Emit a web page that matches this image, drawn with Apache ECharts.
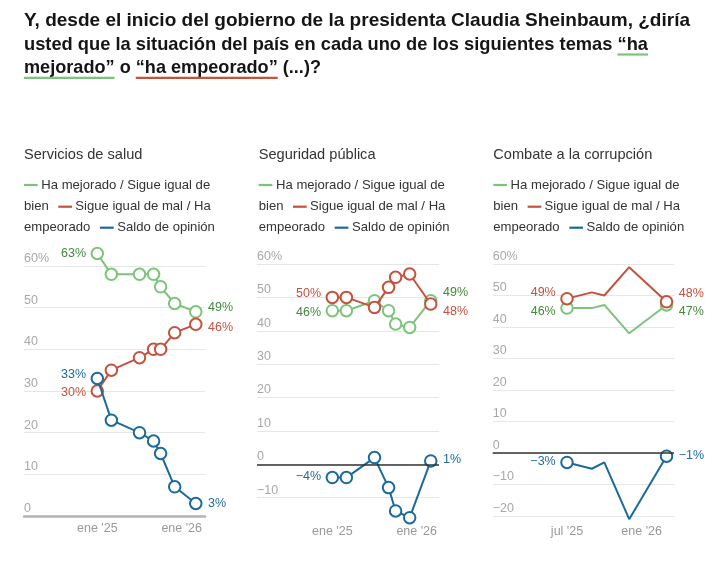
<!DOCTYPE html>
<html>
<head>
<meta charset="utf-8">
<script src="https://cdn.jsdelivr.net/npm/echarts@6/dist/echarts.min.js"></script>
<style>html,body{margin:0;padding:0;background:#fff}#main{width:727px;height:571px}</style>
</head>
<body>
<div id="main"></div>
<script>
// ---------- data ----------
const months12 = ['2025-01','2025-03','2025-07','2025-09','2025-10','2025-12','2026-03'];
const months3 = ['2025-07','2025-09','2025-10','2025-12','2026-03'];

const saludMejor = [63, 58, 58, 58, 55, 51, 49];
const saludPeor  = [30, 35, 38, 40, 40, 44, 46];
const saludSaldo = [33, 23, 20, 18, 15, 7, 3];

const segMejor = [46, 46, 49, 46, 42, 41, 49];
const segPeor  = [50, 50, 47, 53, 56, 57, 48];
const segSaldo = [-4, -4, 2, -7, -14, -16, 1];

const corrMejor = [46, 46, 47, 38, 47];
const corrPeor  = [49, 51, 50, 59, 48];
const corrSaldo = [-3, -5, -3, -21, -1];

const tickMonths12 = ['2025-01', '2026-01'];
const tickLabels12 = ["ene '25", "ene '26"];
const tickMonths3 = ['2025-07', '2026-01'];
const tickLabels3 = ["jul '25", "ene '26"];

const panelTitles = ['Servicios de salud', 'Seguridad pública', 'Combate a la corrupción'];
const titleLines = [
  'Y, desde el inicio del gobierno de la presidenta Claudia Sheinbaum, ¿diría',
  'usted que la situación del país en cada uno de los siguientes temas “ha',
  'mejorado” o “ha empeorado” (...)?'
];
const legendTexts = ['Ha mejorado / Sigue igual de', 'bien', 'Sigue igual de mal / Ha', 'empeorado', 'Saldo de opinión'];

// ---------- style ----------
const GREEN = '#7cc47a', GREEN_T = '#428a3c';
const RED = '#c4523d', RED_T = '#c0533f';
const BLUE = '#1c6a99', BLUE_T = '#216c9a';
const FONT = '"Liberation Sans", Arial, sans-serif';

function toMonth(s) { const [y, m] = s.split('-').map(Number); return (y - 2025) * 12 + (m - 1); }
function pct(v) { return (v < 0 ? '−' + Math.abs(v) : String(v)) + '%'; }
function num(v) { return v < 0 ? '−' + Math.abs(v) : String(v); }

function mkSeries(gi, months, vals, color, tcolor, offs, onlyEnds, z) {
  const n = vals.length;
  const data = vals.map((v, i) => {
    const item = { value: [toMonth(months[i]), v] };
    const end = i === 0 || i === n - 1;
    if (onlyEnds && !end) item.symbol = 'none';
    if (end) {
      item.label = {
        show: true,
        position: i === 0 ? 'left' : 'right',
        distance: i === 0 ? 4.5 : 5.5,
        offset: [0, i === 0 ? offs[0] : offs[1]],
        formatter: pct(v),
        color: tcolor, fontSize: 12.5, fontFamily: FONT
      };
    }
    return item;
  });
  return {
    type: 'line', xAxisIndex: gi, yAxisIndex: gi, data, z,
    clip: false, showSymbol: true, symbol: 'circle', symbolSize: 11.5,
    lineStyle: { color, width: 2 },
    itemStyle: { color: '#fff', borderColor: color, borderWidth: 2 },
    label: { show: false },
    emphasis: { disabled: true },
    animation: false
  };
}

const grids = [
  { left: 24, top: 266, width: 181, height: 250 },
  { left: 257, top: 264, width: 182, height: 267 },
  { left: 492.7, top: 264, width: 181.3, height: 252 }
];
const xRanges = [[-10.42, 15.31], [-10.71, 15.17], [0.03, 14.6]];
const yRanges = [[0, 60], [-20, 60], [-20, 60]];
const xLabelMargins = [6, -6, 9];

const xAxes = grids.map((g, i) => {
  const tm = i < 2 ? tickMonths12 : tickMonths3;
  const tl = i < 2 ? tickLabels12 : tickLabels3;
  const vals = tm.map(toMonth);
  return {
    type: 'value', gridIndex: i, min: xRanges[i][0], max: xRanges[i][1],
    axisLine: { show: i === 0, onZero: false, lineStyle: { color: '#b3b3b3', width: 2.5 } },
    axisTick: { show: false },
    splitLine: { show: false },
    axisLabel: {
      customValues: vals,
      formatter: v => { const k = vals.indexOf(Math.round(v)); return k >= 0 ? tl[k] : ''; },
      color: '#999', fontSize: 12.5, fontFamily: FONT, margin: xLabelMargins[i]
    }
  };
});

const yAxes = grids.map((g, i) => ({
  type: 'value', gridIndex: i, min: yRanges[i][0], max: yRanges[i][1], interval: 10,
  axisLine: { show: false }, axisTick: { show: false },
  splitLine: { show: true, showMinLine: i !== 1, lineStyle: { color: '#e6e6e6', width: 1 } },
  axisLabel: {
    inside: true, margin: 0, verticalAlign: 'bottom', showMinLabel: i !== 1,
    padding: [0, 0, 1, 0],
    formatter: v => v === 60 ? '60%' : num(v),
    color: '#a8a8a8', fontSize: 12.5, fontFamily: FONT
  }
}));

const series = [
  mkSeries(0, months12, saludMejor, GREEN, GREEN_T, [0, -4], false, 2),
  mkSeries(0, months12, saludPeor, RED, RED_T, [2, 3], false, 3),
  mkSeries(0, months12, saludSaldo, BLUE, BLUE_T, [-3.5, 0], false, 4),
  mkSeries(1, months12, segMejor, GREEN, GREEN_T, [2, -8], false, 2),
  mkSeries(1, months12, segPeor, RED, RED_T, [-4, 7], false, 3),
  mkSeries(1, months12, segSaldo, BLUE, BLUE_T, [-1, -1], false, 4),
  mkSeries(2, months3, corrMejor, GREEN, GREEN_T, [3, 7], true, 2),
  mkSeries(2, months3, corrPeor, RED, RED_T, [-6, -8], true, 3),
  mkSeries(2, months3, corrSaldo, BLUE, BLUE_T, [-1, -1], true, 4)
];
[5, 8].forEach(k => {
  series[k].markLine = {
    silent: true, symbol: 'none', label: { show: false },
    lineStyle: { color: '#333', width: 1.5, type: 'solid' },
    data: [{ yAxis: 0 }], animation: false
  };
});

// ---------- graphic texts ----------
const graphic = [];
const TFS = 18.5;
const tfont = 'bold ' + TFS + 'px ' + FONT;
const ctx = document.createElement('canvas').getContext('2d');
ctx.font = tfont;
const lineTargets = [666, 624, 297];
const scales = titleLines.map((t, i) => lineTargets[i] / ctx.measureText(t).width);
const baseY = [21.2, 44.5, 67.8];
titleLines.forEach((t, i) => {
  graphic.push({
    type: 'text', x: 24, y: baseY[i], scaleX: scales[i], originX: 0, originY: 0,
    style: { text: t, fontSize: TFS, fontWeight: 'bold', fontFamily: FONT, fill: '#151515',
      textAlign: 'left', align: 'left', textVerticalAlign: 'middle', verticalAlign: 'middle' }
  });
});
function w(s, li) { return ctx.measureText(s).width * scales[li]; }
// underlines
const l2pre = 'usted que la situación del país en cada uno de los siguientes temas ';
const u = [
  { x0: 24 + w(l2pre, 1), x1: 24 + w(titleLines[1], 1), y: 54.4, c: GREEN },
  { x0: 24, x1: 24 + w('mejorado”', 2), y: 77.7, c: GREEN },
  { x0: 24 + w('mejorado” o ', 2), x1: 24 + w('mejorado” o “ha empeorado”', 2), y: 77.7, c: RED }
];
u.forEach(o => graphic.push({ type: 'rect', shape: { x: o.x0, y: o.y - 1, width: o.x1 - o.x0, height: 2.2 }, style: { fill: o.c } }));

const panelLeft = [24, 258.7, 493.3];
const LFS = 13.1;
panelLeft.forEach((px, i) => {
  graphic.push({ type: 'text', x: px, y: 155, style: { text: panelTitles[i], fontSize: 14.6, fontFamily: FONT, fill: '#333', align: 'left', verticalAlign: 'middle', textAlign: 'left', textVerticalAlign: 'middle' } });
  const lt = (text, dx, y) => graphic.push({ type: 'text', x: px + dx, y, style: { text, fontSize: LFS, fontFamily: FONT, fill: '#333', align: 'left', verticalAlign: 'middle', textAlign: 'left', textVerticalAlign: 'middle' } });
  const dash = (dx, y, c) => graphic.push({ type: 'rect', shape: { x: px + dx, y: y - 1.1, width: 13.7, height: 2.2 }, style: { fill: c } });
  dash(0, 185, GREEN); lt(legendTexts[0], 17.3, 185);
  lt(legendTexts[1], 0, 206.7); dash(34.3, 206.7, RED); lt(legendTexts[2], 51.3, 206.7);
  lt(legendTexts[3], 0, 227.7); dash(76, 227.7, BLUE); lt(legendTexts[4], 93.3, 227.7);
});

const chart = echarts.init(document.getElementById('main'), null, { renderer: 'canvas' });
chart.setOption({
  animation: false,
  backgroundColor: '#fff',
  grid: grids,
  xAxis: xAxes,
  yAxis: yAxes,
  series,
  graphic
});
</script>
</body>
</html>
